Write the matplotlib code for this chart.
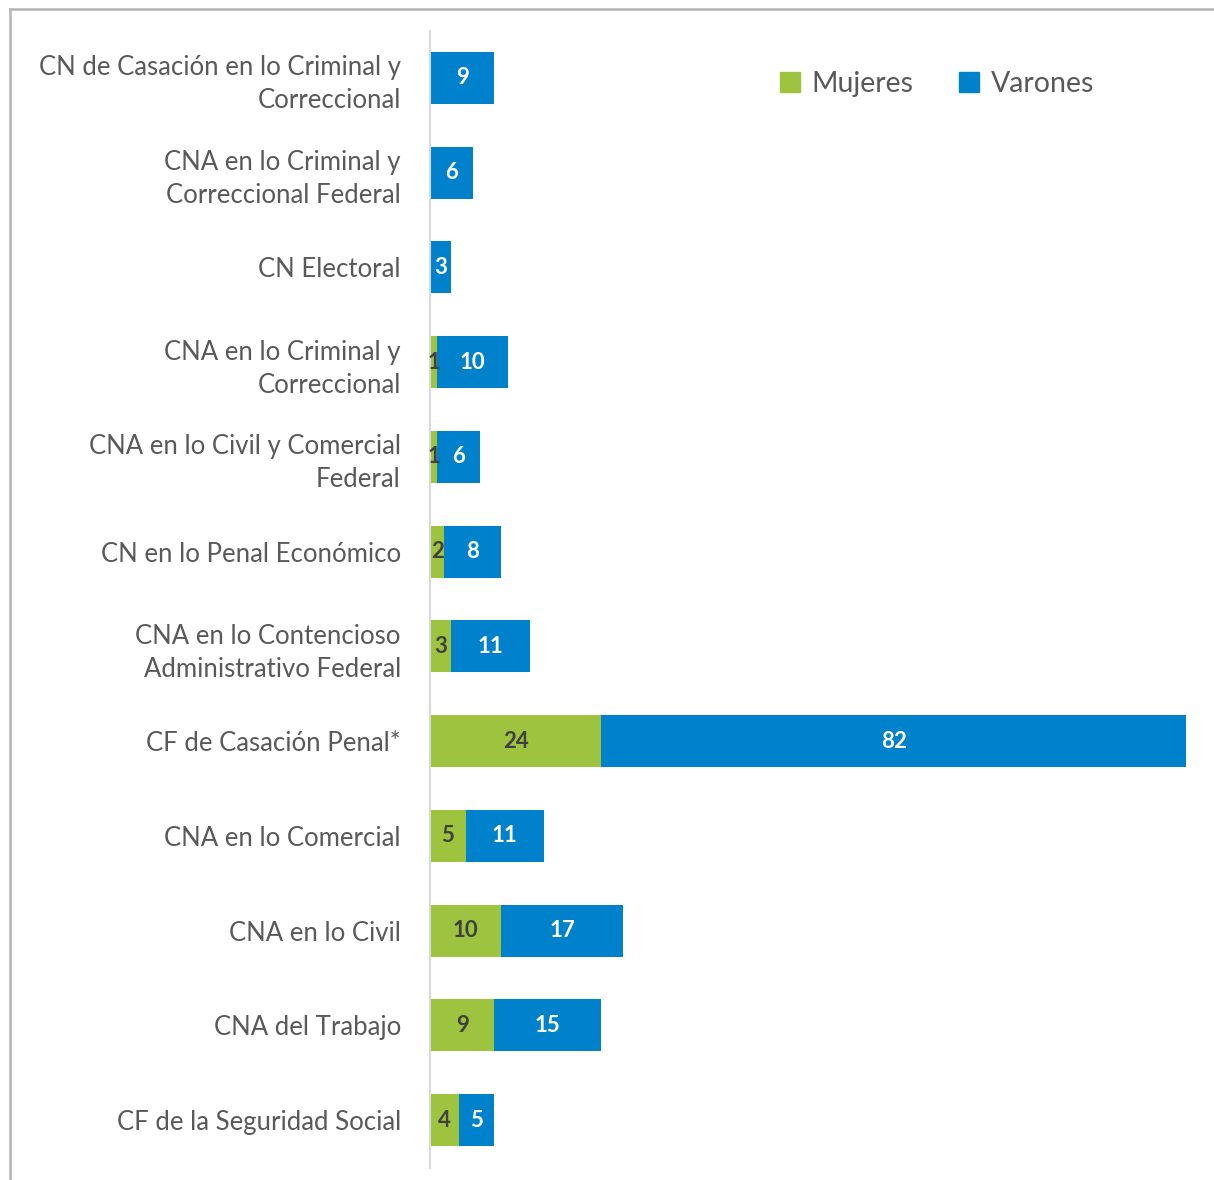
import matplotlib.pyplot as plt
import numpy as np
from matplotlib.lines import Line2D
from matplotlib.patches import Patch

categorias = ["CN de Casación en lo Criminal y\nCorreccional",
              "CNA en lo Criminal y\nCorreccional Federal",
              "CN Electoral",
              "CNA en lo Criminal y\nCorreccional",
              "CNA en lo Civil y Comercial\nFederal",
              "CN en lo Penal Económico",
              "CNA en lo Contencioso\nAdministrativo Federal",
              "CF de Casación Penal*",
              "CNA en lo Comercial",
              "CNA en lo Civil",
              "CNA del Trabajo",
              "CF de la Seguridad Social"]
mujeres = [0, 0, 0, 1, 1, 2, 3, 24, 5, 10, 9, 4]
varones = [9, 6, 3, 10, 6, 8, 11, 82, 11, 17, 15, 5]

verde = '#9DC33F'
azul = '#0081CB'
plt.rcParams['font.family'] = ['Lato', 'DejaVu Sans']

fig = plt.figure(figsize=(12.14, 11.8), dpi=100)
ax = fig.add_axes([430/1214, 1-1167.5/1180, (1186-430)/1214, (1167.5-30.5)/1180])

y = np.arange(len(categorias))
ax.barh(y, mujeres, height=0.55, color=verde, label='Mujeres')
ax.barh(y, varones, left=mujeres, height=0.55, color=azul, label='Varones')

for i in range(len(categorias)):
    if mujeres[i] > 0:
        ax.text(mujeres[i]/2, y[i], str(mujeres[i]), ha='center', va='center',
                fontsize=16, fontweight='bold', color='#404040')
    ax.text(mujeres[i] + varones[i]/2, y[i], str(varones[i]), ha='center', va='center',
            fontsize=16, fontweight='bold', color='white')

ax.set_xlim(0, 106)
ax.set_ylim(len(categorias) - 0.5, -0.5)
ax.set_yticks(y)
ax.set_yticklabels(categorias, fontsize=18.5, color='#595959', linespacing=1.4)
ax.tick_params(axis='y', length=0, pad=21)
ax.set_xticks([])
for s in ['top', 'right', 'bottom']:
    ax.spines[s].set_visible(False)
ax.spines['left'].set_color('#d9d9d9')
ax.spines['left'].set_linewidth(1.5)

handles = [Patch(color=verde, label='Mujeres'), Patch(color=azul, label='Varones')]
fig.legend(handles=handles, loc='center', bbox_to_anchor=(937/1214, 1-84/1180), ncol=2,
           frameon=False, fontsize=20.5, handlelength=0.7, handleheight=0.7,
           handletextpad=0.4, columnspacing=1.6, labelcolor='#595959')

# marco de la figura
fig.add_artist(Line2D([10/1214, 1], [1-9/1180, 1-9/1180], color='#b4b4b4', lw=1.8))
fig.add_artist(Line2D([10/1214, 10/1214], [0, 1-9/1180], color='#b4b4b4', lw=1.8))

fig.savefig('out.png', dpi=100)
